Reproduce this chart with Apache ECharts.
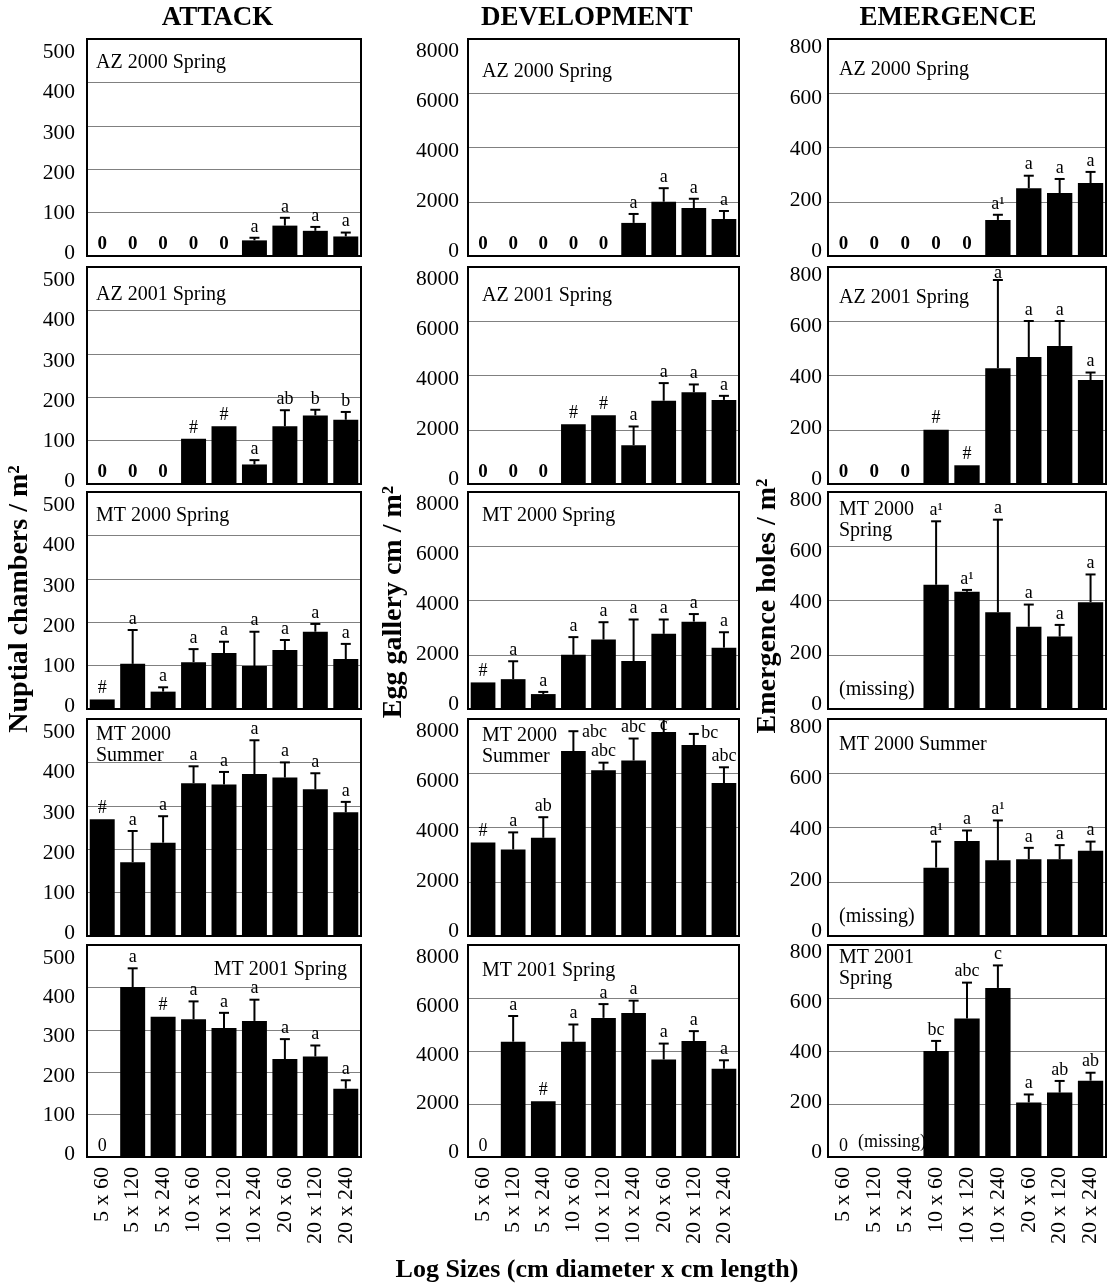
<!DOCTYPE html>
<html>
<head>
<meta charset="utf-8">
<script src="https://cdn.jsdelivr.net/npm/echarts@6/dist/echarts.min.js"></script>
<style>
html,body{margin:0;padding:0;background:#fff;}
#chart{width:1112px;height:1285px;}
</style>
</head>
<body>
<div id="chart"></div>
<script>
// ---------------- DATA ----------------
const categories = ['5 x 60', '5 x 120', '5 x 240', '10 x 60', '10 x 120', '10 x 240', '20 x 60', '20 x 120', '20 x 240'];
const columnTitles = ['ATTACK', 'DEVELOPMENT', 'EMERGENCE'];
const yAxisTitles = ['Nuptial chambers / m²', 'Egg gallery cm / m²', 'Emergence holes / m²'];
const xAxisTitle = 'Log Sizes (cm diameter x cm length)';
const yMax = [500, 8000, 800];
const yStep = [100, 2000, 200];
const attackTicks = [0, 100, 200, 300, 400, 500];
const developmentTicks = [0, 2000, 4000, 6000, 8000];
const emergenceTicks = [0, 200, 400, 600, 800];

// ATTACK: nuptial chambers / m2
const attackPanels = ['AZ 2000 Spring', 'AZ 2001 Spring', 'MT 2000 Spring', 'MT 2000\nSummer', 'MT 2001 Spring'];
const attackMean = [
  [0, 0, 0, 0, 0, 36, 70, 58, 45],
  [0, 0, 0, 104, 133, 45, 133, 158, 148],
  [22, 104, 40, 108, 129, 99, 136, 178, 115],
  [269, 170, 215, 352, 349, 373, 365, 338, 285],
  [0, 401, 331, 325, 304, 321, 231, 237, 161]
];
const attackErr = [
  [null, null, null, null, null, 42, 88, 67, 54],
  [null, null, null, null, null, 55, 170, 171, 166],
  [null, 182, 50, 138, 155, 178, 159, 196, 150],
  [null, 242, 276, 391, 378, 451, 400, 375, 309],
  [null, 445, null, 367, 340, 371, 278, 263, 181]
];
const attackSig = [
  ['0', '0', '0', '0', '0', 'a', 'a', 'a', 'a'],
  ['0', '0', '0', '#', '#', 'a', 'ab', 'b', 'b'],
  ['#', 'a', 'a', 'a', 'a', 'a', 'a', 'a', 'a'],
  ['#', 'a', 'a', 'a', 'a', 'a', 'a', 'a', 'a'],
  ['0', 'a', '#', 'a', 'a', 'a', 'a', 'a', 'a']
];
const attackNotes = ['', '', '', '', ''];

// DEVELOPMENT: egg gallery cm / m2
const developmentPanels = ['AZ 2000 Spring', 'AZ 2001 Spring', 'MT 2000 Spring', 'MT 2000\nSummer', 'MT 2001 Spring'];
const developmentMean = [
  [0, 0, 0, 0, 0, 1220, 2000, 1770, 1365],
  [0, 0, 0, 2200, 2530, 1430, 3070, 3380, 3100],
  [980, 1100, 550, 2000, 2560, 1770, 2770, 3220, 2260],
  [3450, 3190, 3620, 6820, 6110, 6470, 7520, 7040, 5640],
  [0, 4350, 2100, 4350, 5250, 5430, 3680, 4380, 3330]
];
const developmentErr = [
  [null, null, null, null, null, 1550, 2500, 2110, 1660],
  [null, null, null, null, null, 2120, 3720, 3670, 3250],
  [null, 1760, 630, 2650, 3200, 3300, 3300, 3500, 2830],
  [null, 3820, 4380, 7550, 6390, 7280, 7990, 7450, 6220],
  [null, 5320, null, 5000, 5770, 5900, 4280, 4750, 3650]
];
const developmentSig = [
  ['0', '0', '0', '0', '0', 'a', 'a', 'a', 'a'],
  ['0', '0', '0', '#', '#', 'a', 'a', 'a', 'a'],
  ['#', 'a', 'a', 'a', 'a', 'a', 'a', 'a', 'a'],
  ['#', 'a', 'ab', 'abc', 'abc', 'abc', 'c', 'bc', 'abc'],
  ['0', 'a', '#', 'a', 'a', 'a', 'a', 'a', 'a']
];
const developmentNotes = ['', '', '', '', ''];

// EMERGENCE: emergence holes / m2
const emergencePanels = ['AZ 2000 Spring', 'AZ 2001 Spring', 'MT 2000\nSpring', 'MT 2000 Summer', 'MT 2001\nSpring'];
const emergenceMean = [
  [0, 0, 0, 0, 0, 133, 250, 232, 269],
  [0, 0, 0, 200, 69, 427, 468, 509, 383],
  [null, null, null, 458, 432, 357, 303, 267, 394],
  [null, null, null, 252, 350, 279, 283, 283, 314],
  [0, null, null, 400, 523, 638, 206, 243, 288]
];
const emergenceErr = [
  [null, null, null, null, null, 152, 296, 284, 310],
  [null, null, null, null, null, 752, 601, 601, 411],
  [null, null, null, 692, 439, 698, 385, 310, 496],
  [null, null, null, 348, 389, 426, 325, 335, 348],
  [null, null, null, 438, 658, 723, 236, 287, 318]
];
const emergenceSig = [
  ['0', '0', '0', '0', '0', 'a¹', 'a', 'a', 'a'],
  ['0', '0', '0', '#', '#', 'a', 'a', 'a', 'a'],
  ['', '', '', 'a¹', 'a¹', 'a', 'a', 'a', 'a'],
  ['', '', '', 'a¹', 'a', 'a¹', 'a', 'a', 'a'],
  ['0', '', '', 'bc', 'abc', 'c', 'a', 'ab', 'ab']
];
const emergenceNotes = ['', '', '(missing)', '(missing)', '(missing)'];

// ---------------- LAYOUT ----------------
const FONT = '"Liberation Serif", "Times New Roman", Times, serif';
const colLeft = [87, 468, 828];
const colWidth = [274, 271, 278];
const rowTop = [39, 267, 492, 719, 945];
const rowHeight = [217, 217, 217, 217, 212];
// extent of the (hidden-line) label axis, so tick labels sit where the reference prints them
const labelAxisExtent = [[-7, 534], [-194, 8516], [-18, 831]];
const labelMargin = [12, 9, 6];
const titleDx = [9, 14, 11];
const titleCapDy = [[16, 20, 16, 8, 17], [25, 21, 16, 9, 18], [23, 23, 10, 18, 5]];
const titleAlign = [['left', 'left', 'left', 'left', 'right'], ['left', 'left', 'left', 'left', 'left'], ['left', 'left', 'left', 'left', 'left']];
const labelShift = { '1-3-3': [21, 10], '1-3-7': [16, 8] };
const colTitleX = [217.5, 586.7, 948];
const yTitlePos = [[20, 599], [394, 602], [768, 606]];

const measures = [
  { panels: attackPanels, mean: attackMean, err: attackErr, sig: attackSig, notes: attackNotes, ticks: attackTicks },
  { panels: developmentPanels, mean: developmentMean, err: developmentErr, sig: developmentSig, notes: developmentNotes, ticks: developmentTicks },
  { panels: emergencePanels, mean: emergenceMean, err: emergenceErr, sig: emergenceSig, notes: emergenceNotes, ticks: emergenceTicks }
];

const grid = [], xAxis = [], yAxis = [], series = [], graphic = [];

function txt(text, x, y, font, align, valign, extra) {
  const el = {
    type: 'text', x: x, y: y, silent: true, z: 100,
    style: {
      text: text, x: 0, y: 0, font: font, fill: '#000',
      align: align, textAlign: align, verticalAlign: valign, textVerticalAlign: valign
    }
  };
  if (extra) Object.assign(el.style, extra.style || {});
  if (extra && extra.rotation) el.rotation = extra.rotation;
  return el;
}

let g = 0;
for (let c = 0; c < 3; c++) {
  const M = measures[c];
  for (let r = 0; r < 5; r++) {
    const left = colLeft[c], top = rowTop[r], width = colWidth[c], height = rowHeight[r];
    grid.push({ left: left, top: top, width: width, height: height, show: true, borderColor: '#000', borderWidth: 2, backgroundColor: 'transparent', z: 1 });
    xAxis.push({
      type: 'category', gridIndex: g, data: categories,
      axisLine: { show: false }, axisTick: { show: false }, splitLine: { show: false },
      axisLabel: { show: r === 4, rotate: 90, interval: 0, fontFamily: FONT, fontSize: 22, color: '#000', margin: 10 }
    });
    // value axis for the bars (gridlines)
    yAxis.push({
      type: 'value', gridIndex: g, min: 0, max: yMax[c], interval: yStep[c], position: 'left',
      axisLine: { show: false }, axisTick: { show: false }, axisLabel: { show: false },
      splitLine: { show: true, lineStyle: { color: '#808080', width: 1 } }
    });
    // label axis (tick labels as printed in the reference)
    yAxis.push({
      type: 'value', gridIndex: g, min: labelAxisExtent[c][0], max: labelAxisExtent[c][1], position: 'left',
      axisLine: { show: false }, axisTick: { show: false, customValues: M.ticks }, splitLine: { show: false },
      axisLabel: {
        show: true, customValues: M.ticks, formatter: function (v) { return String(v); },
        fontFamily: FONT, fontSize: 21.5, color: '#000', margin: labelMargin[c]
      }
    });
    const mean = M.mean[r], err = M.err[r], sig = M.sig[r];
    const yIdx = 2 * g;
    series.push({
      type: 'bar', xAxisIndex: g, yAxisIndex: yIdx, data: mean, barCategoryGap: '18%',
      itemStyle: { color: '#000' }, silent: true, z: 2
    });
    const gTop = top;
    const key = c + '-' + r;
    const zeroBold = r < 2;
    series.push({
      type: 'custom', xAxisIndex: g, yAxisIndex: yIdx, clip: false, silent: true, z: 5,
      data: mean.map(function (m, i) { return [i, m == null ? 0 : m, err[i] == null ? (m == null ? 0 : m) : err[i]]; }),
      renderItem: function (params, api) {
        const i = params.dataIndex;
        const m = mean[i], e = err[i], s = sig[i];
        if (m == null && !s) return null;
        const base = api.coord([i, m == null ? 0 : m]);
        const children = [];
        let topY = base[1];
        if (e != null) {
          const pe = api.coord([i, e]);
          topY = pe[1];
          children.push({ type: 'line', shape: { x1: base[0], y1: base[1], x2: base[0], y2: pe[1] }, style: { stroke: '#000', lineWidth: 2 } });
          children.push({ type: 'line', shape: { x1: base[0] - 5, y1: pe[1], x2: base[0] + 5, y2: pe[1] }, style: { stroke: '#000', lineWidth: 2 } });
        }
        if (s) {
          let x = base[0];
          let y = Math.max(topY - 2, gTop + 15);
          const sh = labelShift[key + '-' + i];
          if (sh) { x += sh[0]; y = topY + sh[1]; }
          let font = '18px ' + FONT;
          if (s === '0') font = (zeroBold ? 'bold 19px ' : '18px ') + FONT;
          children.push({
            type: 'text',
            style: { text: s, x: x, y: y, font: font, fill: '#000', align: 'center', textAlign: 'center', verticalAlign: 'bottom', textVerticalAlign: 'bottom' }
          });
        }
        return { type: 'group', children: children };
      }
    });
    // panel title
    const al = titleAlign[c][r];
    const tx = al === 'left' ? left + titleDx[c] : left + width - 14;
    graphic.push(txt(M.panels[r], tx, top + titleCapDy[c][r] - 3, '20px ' + FONT, al, 'top', { style: { lineHeight: 21 } }));
    // notes
    if (M.notes[r]) {
      const nx = left + (r === 4 ? 30 : 11);
      const fs = r === 4 ? 18 : 20;
      graphic.push(txt(M.notes[r], nx, top + height - (r === 4 ? 6 : 9), fs + 'px ' + FONT, 'left', 'bottom'));
    }
    g++;
  }
  // column title
  graphic.push(txt(columnTitles[c], colTitleX[c], 18, 'bold 27px ' + FONT, 'center', 'middle'));
  // y-axis title
  graphic.push(txt(yAxisTitles[c], yTitlePos[c][0], yTitlePos[c][1], 'bold 28px ' + FONT, 'center', 'middle', { rotation: Math.PI / 2 }));
}
graphic.push(txt(xAxisTitle, 597, 1270, 'bold 26px ' + FONT, 'center', 'middle'));

const chart = echarts.init(document.getElementById('chart'), null, { renderer: 'canvas', width: 1112, height: 1285 });
chart.setOption({
  animation: false,
  backgroundColor: '#fff',
  textStyle: { fontFamily: FONT },
  grid: grid,
  xAxis: xAxis,
  yAxis: yAxis,
  series: series,
  graphic: { elements: graphic }
});
</script>
</body>
</html>
